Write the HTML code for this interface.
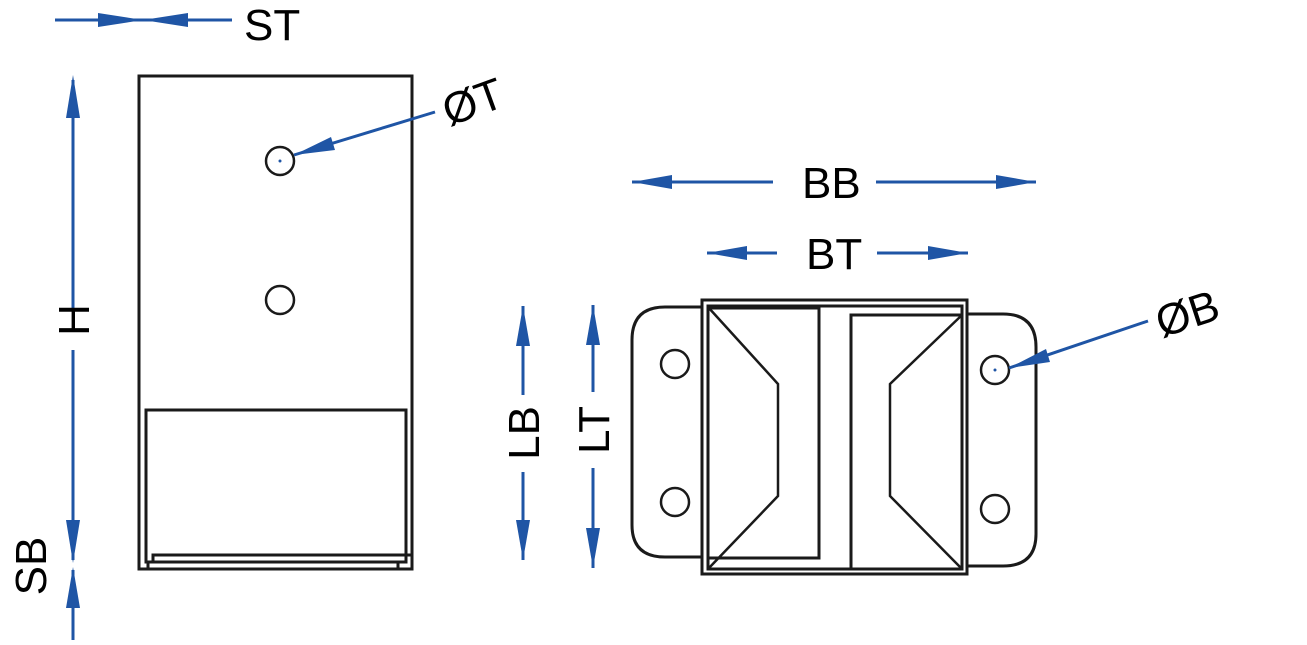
<!DOCTYPE html>
<html><head><meta charset="utf-8"><style>html,body{margin:0;padding:0;background:#fff}svg{display:block}text{font-family:"Liberation Sans",sans-serif;font-size:44px;fill:#000}</style></head><body>
<svg width="1307" height="645" viewBox="0 0 1307 645" xmlns="http://www.w3.org/2000/svg">
<g fill="none" stroke="#1a1a1a" stroke-width="3">
<rect x="139" y="76" width="273" height="493"/>
<rect x="146" y="410" width="260" height="152"/>
<polyline points="153,562 153,555 412,555"/>
<polyline points="148,562 148,569 398,569 398,562"/>
<circle cx="280" cy="161" r="14" stroke-width="2.5"/>
<circle cx="280" cy="300" r="14" stroke-width="2.5"/>
<path d="M702,307 H665 Q632,307 632,340 V525 Q632,557 665,557 H702"/>
<path d="M967,314 H1003 Q1036,314 1036,347 V534 Q1036,566 1003,566 H967"/>
<rect x="702" y="300" width="265" height="274"/>
<rect x="708" y="306" width="254" height="263"/>
<polyline points="708,308 819,308 819,558 708,558"/>
<polyline points="962,315 851,315 851,569"/>
<polyline points="708,307 778,384 778,496 708,569" stroke-width="2.5"/>
<polyline points="962,315 890,384 890,496 962,569" stroke-width="2.5"/>
<circle cx="675" cy="364" r="14" stroke-width="2.5"/>
<circle cx="675" cy="502" r="14" stroke-width="2.5"/>
<circle cx="995" cy="370" r="14" stroke-width="2.5"/>
<circle cx="995" cy="509" r="14" stroke-width="2.5"/>
</g>
<circle cx="280" cy="161" r="1.5" fill="#1f55a5"/>
<circle cx="995" cy="370" r="1.5" fill="#1f55a5"/>
<g stroke="#1f55a5" stroke-width="3" fill="none">
<line x1="55" y1="20" x2="232" y2="20"/>
<line x1="73" y1="80" x2="73" y2="308"/>
<line x1="73" y1="350" x2="73" y2="560"/>
<line x1="73" y1="570" x2="73" y2="640"/>
<line x1="632" y1="182" x2="773" y2="182"/>
<line x1="876" y1="182" x2="1036" y2="182"/>
<line x1="707" y1="253" x2="777" y2="253"/>
<line x1="877" y1="253" x2="968" y2="253"/>
<line x1="523" y1="306" x2="523" y2="395"/>
<line x1="523" y1="472" x2="523" y2="560"/>
<line x1="593" y1="305" x2="593" y2="392"/>
<line x1="593" y1="468" x2="593" y2="568"/>
<line x1="294" y1="155" x2="435" y2="112"/>
<line x1="1009" y1="368" x2="1148" y2="321"/>
</g>
<g fill="#1f55a5">
<polygon points="143,20 98,13 98,27"/>
<polygon points="143,20 188,13 188,27"/>
<polygon points="73,75 66,118 80,118"/>
<polygon points="73,563 66,520 80,520"/>
<polygon points="73,567 66,608 80,608"/>
<polygon points="632,182 672,175 672,189"/>
<polygon points="1036,182 996,175 996,189"/>
<polygon points="707,253 747,246 747,260"/>
<polygon points="968,253 928,246 928,260"/>
<polygon points="523,306 516,346 530,346"/>
<polygon points="523,560 516,520 530,520"/>
<polygon points="593,305 586,345 600,345"/>
<polygon points="593,568 586,528 600,528"/>
<polygon points="294,155 331,137 335,150"/>
<polygon points="1009,368 1046,349 1050,362"/>
</g>
<text x="244" y="40">ST</text>
<text x="802" y="198">BB</text>
<text x="806" y="269">BT</text>
<text transform="translate(89,320) rotate(-90)" text-anchor="middle">H</text>
<text transform="translate(46,566) rotate(-90)" text-anchor="middle">SB</text>
<text transform="translate(539,433) rotate(-90)" text-anchor="middle">LB</text>
<text transform="translate(609,430) rotate(-90)" text-anchor="middle">LT</text>
<text transform="translate(478,116) rotate(-20)" text-anchor="middle">ØT</text>
<text transform="translate(1192,328) rotate(-18)" text-anchor="middle">ØB</text>
</svg>
</body></html>
